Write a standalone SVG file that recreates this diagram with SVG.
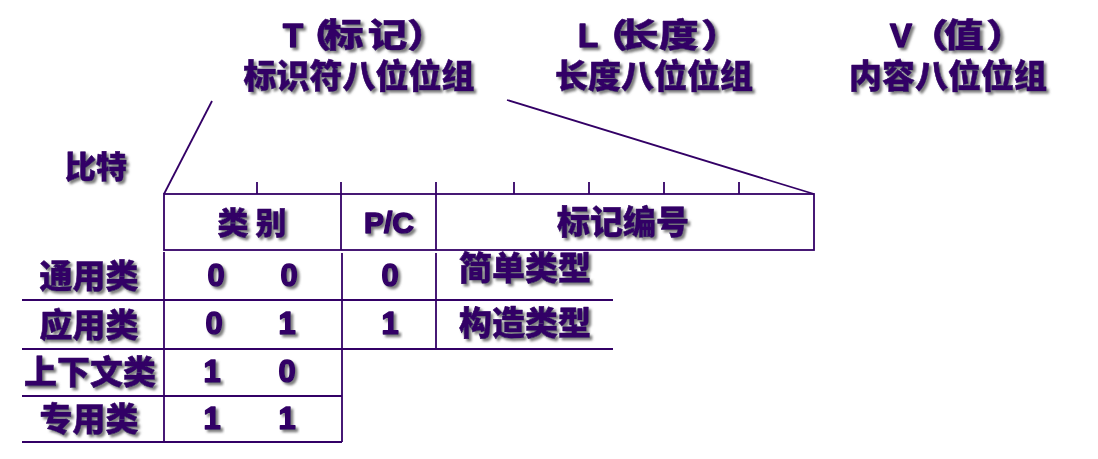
<svg xmlns="http://www.w3.org/2000/svg" width="1098" height="459" viewBox="0 0 1098 459">
<defs>
<filter id="sh" x="-10%" y="-20%" width="130%" height="150%">
<feDropShadow dx="2.5" dy="2.5" stdDeviation="1.3" flood-color="#707070" flood-opacity="0.9"/>
</filter>
<style>
.t{font-family:"Liberation Sans","Noto Sans CJK SC",sans-serif;font-weight:700;fill:#330066;stroke:#330066;stroke-width:1.5;stroke-linejoin:round;filter:url(#sh)}
.c{font-family:"Noto Sans CJK SC","Liberation Sans",sans-serif;font-weight:900;fill:#330066;stroke:#330066;stroke-width:0.6;stroke-linejoin:round;filter:url(#sh)}
.l{stroke:#330066;stroke-width:1.8;fill:none}
.m{text-anchor:middle}
</style>
</defs>
<rect width="1098" height="459" fill="#ffffff"/>
<g id="header-T">
<text class="t" x="283" y="47" font-size="33">T</text>
<text class="c" transform="scale(1.2,1)" x="243.5 270 306.5 339.17" y="47" font-size="33">（标记）</text>
<text class="c m" x="359" y="88" font-size="33">标识符八位位组</text>
</g>
<g id="header-L">
<text class="t" x="578" y="47" font-size="33">L</text>
<text class="c" transform="scale(1.2,1)" x="490.8 515.83 549.17 584.17" y="47" font-size="33">（长度）</text>
<text class="c m" x="654" y="88" font-size="33">长度八位位组</text>
</g>
<g id="header-V">
<text class="t" x="890" y="47" font-size="33">V</text>
<text class="c" transform="scale(1.2,1)" x="757.5 786.67 821.67" y="47" font-size="33">（值）</text>
<text class="c m" x="948" y="88" font-size="33">内容八位位组</text>
</g>
<g id="bits-label">
<text class="c" x="65" y="178" font-size="31">比特</text>
</g>
<g id="connectors">
<line class="l" x1="212" y1="101" x2="164" y2="194"/>
<line class="l" x1="507" y1="100" x2="814" y2="194"/>
</g>
<g id="octet-box">
<rect class="l" x="164" y="194" width="650" height="56"/>
<line class="l" x1="341" y1="194" x2="341" y2="250"/>
<line class="l" x1="436" y1="194" x2="436" y2="250"/>
<line class="l" x1="257" y1="182" x2="257" y2="194"/>
<line class="l" x1="341" y1="182" x2="341" y2="194"/>
<line class="l" x1="436" y1="182" x2="436" y2="194"/>
<line class="l" x1="514" y1="182" x2="514" y2="194"/>
<line class="l" x1="589" y1="182" x2="589" y2="194"/>
<line class="l" x1="664" y1="182" x2="664" y2="194"/>
<line class="l" x1="739" y1="182" x2="739" y2="194"/>
<text class="c m" x="252" y="234" font-size="31">类 别</text>
<text class="t m" x="389" y="233" font-size="30">P/C</text>
<text class="c m" x="623" y="234" font-size="33">标记编号</text>
</g>
<g id="class-table">
<line class="l" x1="164" y1="252" x2="164" y2="442"/>
<line class="l" x1="342" y1="253" x2="342" y2="442"/>
<line class="l" x1="436" y1="253" x2="436" y2="349"/>
<line class="l" x1="22" y1="300" x2="613" y2="300"/>
<line class="l" x1="22" y1="349" x2="613" y2="349"/>
<line class="l" x1="22" y1="396" x2="342" y2="396"/>
<line class="l" x1="22" y1="442" x2="342" y2="442"/>
<text class="c m" x="89" y="288" font-size="33">通用类</text>
<text class="c m" x="89" y="337" font-size="33">应用类</text>
<text class="c m" x="90" y="384" font-size="33">上下文类</text>
<text class="c m" x="89" y="431" font-size="33">专用类</text>
<text class="t m" x="216" y="286" font-size="31">0</text>
<text class="t m" x="289" y="286" font-size="31">0</text>
<text class="t m" x="214" y="334" font-size="31">0</text>
<text class="t m" x="287" y="334" font-size="31">1</text>
<text class="t m" x="212" y="382" font-size="31">1</text>
<text class="t m" x="287" y="382" font-size="31">0</text>
<text class="t m" x="212" y="429" font-size="31">1</text>
<text class="t m" x="287" y="429" font-size="31">1</text>
<text class="t m" x="390" y="286" font-size="31">0</text>
<text class="t m" x="390" y="334" font-size="31">1</text>
<text class="c" x="459" y="280" font-size="33">简单类型</text>
<text class="c" x="459" y="335" font-size="33">构造类型</text>
</g>
</svg>
